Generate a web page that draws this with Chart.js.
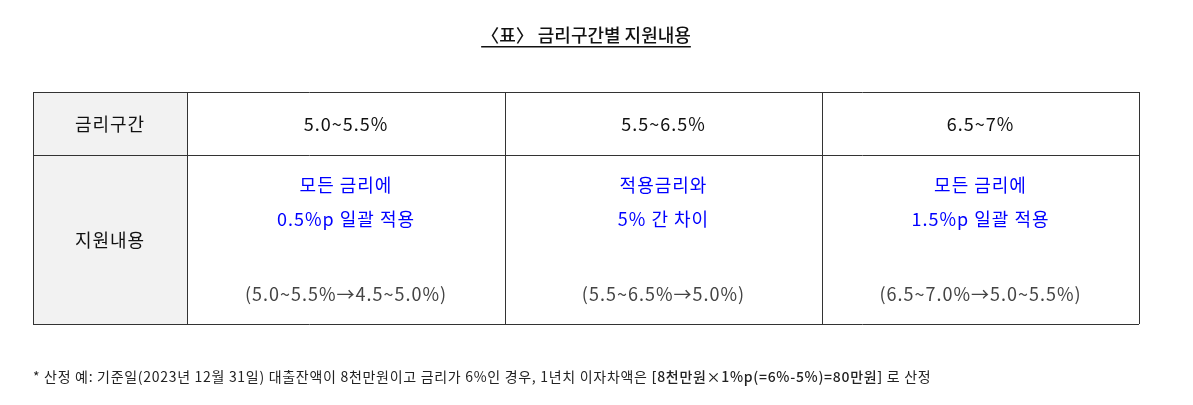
<!DOCTYPE html>
<html><head><meta charset="utf-8">
<script src="https://cdn.jsdelivr.net/npm/chart.js@4"></script>
<style>html,body{margin:0;padding:0;background:#fff}#c{display:block}</style>
</head><body>
<canvas id="c" width="1193" height="405" style="width:1193px;height:405px"></canvas>
<script>
var title = '〈표〉 금리구간별 지원내용';
var rowHeaders = ['금리구간', '지원내용'];
var rateRanges = ['5.0~5.5%', '5.5~6.5%', '6.5~7%'];
var supportMain = [['모든 금리에', '0.5%p 일괄 적용'], ['적용금리와', '5% 간 차이'], ['모든 금리에', '1.5%p 일괄 적용']];
var supportNote = ['(5.0~5.5%→4.5~5.0%)', '(5.5~6.5%→5.0%)', '(6.5~7.0%→5.0~5.5%)'];
var footNormal = '* 산정 예: 기준일(2023년 12월 31일) 대출잔액이 8천만원이고 금리가 6%인 경우, 1년치 이자차액은 ';
var footBold = '[8천만원×1%p(=6%-5%)=80만원]';
var footEnd = ' 로 산정';

var FONT = '"Noto Sans CJK KR", "Noto Sans", sans-serif';
var colX = [33, 187, 505, 822, 1139];
var rowY = [92, 155, 324];

var tablePlugin = {
	id: 'tablePlugin',
	afterDraw: function(chart){
		var ctx = chart.ctx, xs = chart.scales.x, ys = chart.scales.y;
		var px = function(v){ return xs.getPixelForValue(v); };
		var py = function(v){ return ys.getPixelForValue(v); };
		ctx.save();
		ctx.fillStyle = '#f2f2f2';
		ctx.fillRect(px(colX[0]), py(rowY[0]), px(colX[1]) - px(colX[0]), py(rowY[2]) - py(rowY[0]));
		ctx.strokeStyle = '#333';
		ctx.lineWidth = 1;
		ctx.beginPath();
		for(var i in colX){ var x = Math.round(px(colX[i])) + 0.5; ctx.moveTo(x, py(rowY[0])); ctx.lineTo(x, py(rowY[2])); }
		for(var j in rowY){ var y = Math.round(py(rowY[j])) + 0.5; ctx.moveTo(px(colX[0]), y); ctx.lineTo(px(colX[4]), y); }
		ctx.stroke();

		ctx.textAlign = 'center'; ctx.textBaseline = 'middle';
		ctx.fillStyle = '#111';
		ctx.font = '500 18px ' + FONT;
		ctx.letterSpacing = '0px';
		ctx.fillText(title, px(586), py(35));
		var tw = ctx.measureText(title).width;
		ctx.fillRect(px(586) - tw/2, py(46), tw, 1.5);
		ctx.font = '18px ' + FONT;
		ctx.letterSpacing = '1px';
		ctx.fillText(rowHeaders[0], px(110), py(124));
		ctx.fillText(rowHeaders[1], px(110), py(240));
		for(var k = 0; k < 3; k++){
			var cx = px((colX[k+1] + colX[k+2]) / 2);
			ctx.fillStyle = '#111';
			ctx.fillText(rateRanges[k], cx, py(124));
			ctx.fillStyle = '#0000ff';
			ctx.fillText(supportMain[k][0], cx, py(185));
			ctx.fillText(supportMain[k][1], cx, py(219));
			ctx.fillStyle = '#444';
			ctx.fillText(supportNote[k], cx, py(294));
		}
		ctx.textAlign = 'left';
		ctx.fillStyle = '#222';
		ctx.letterSpacing = '0.7px';
		ctx.font = '14px ' + FONT;
		var fx = px(33);
		ctx.fillText(footNormal, fx, py(377));
		fx += ctx.measureText(footNormal).width;
		ctx.font = '500 14px ' + FONT;
		ctx.fillText(footBold, fx, py(377));
		fx += ctx.measureText(footBold).width;
		ctx.font = '14px ' + FONT;
		ctx.fillText(footEnd, fx, py(377));
		ctx.restore();
	}
};

new Chart(document.getElementById('c'), {
	type: 'scatter',
	data: { datasets: [{ data: [], pointRadius: 0 }] },
	options: {
		responsive: false, animation: false,
		layout: { padding: 0 },
		scales: {
			x: { type: 'linear', min: 0, max: 1193, display: false },
			y: { type: 'linear', min: 0, max: 405, reverse: true, display: false }
		},
		plugins: { legend: { display: false }, tooltip: { enabled: false } }
	},
	plugins: [tablePlugin]
});
</script>
</body></html>
